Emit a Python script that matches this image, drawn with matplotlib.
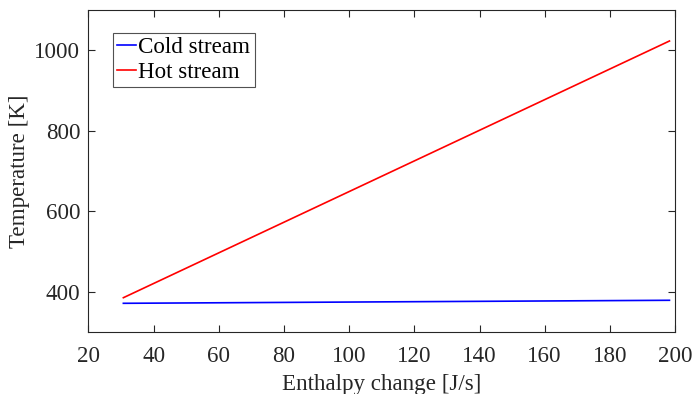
import matplotlib
matplotlib.use('Agg')
import matplotlib.pyplot as plt
import numpy as np

# enthalpy change [J/s] and stream temperatures [K]
dh = [30.7, 198.3]
tCold = [371.3, 378.8]
tHot = [385.2, 1023.0]

xTicks = [20, 40, 60, 80, 100, 120, 140, 160, 180, 200]
yTicks = [400, 600, 800, 1000]

plt.rcParams['font.family'] = ['Liberation Serif', 'DejaVu Serif']
fs = 16.6
axColor = '#262626'

fig = plt.figure(figsize=(6.94, 3.94), dpi=100)
ax = fig.add_axes([88.5 / 694, 1 - 332 / 394, (675 - 88.5) / 694, (332 - 10) / 394])

ax.plot(dh, tCold, color='#0000ff', lw=1.2, label='Cold stream')
ax.plot(dh, tHot, color='#ff0000', lw=1.2, label='Hot stream')

ax.set_xlim(20, 200)
ax.set_ylim(300, 1100)
ax.set_xticks(xTicks)
ax.set_yticks(yTicks)
ax.tick_params(direction='in', top=True, right=True, labelsize=fs, colors=axColor,
               length=5, width=0.8)
ax.tick_params(axis='x', pad=10)
ax.tick_params(axis='y', pad=6)
for s in ax.spines.values():
  s.set_color(axColor)
  s.set_linewidth(0.8)

ax.set_xlabel('Enthalpy change [J/s]', fontsize=fs, color=axColor, labelpad=5)
ax.set_ylabel('Temperature [K]', fontsize=fs, color=axColor, labelpad=3)

leg = ax.legend(loc='upper left', bbox_to_anchor=(0.042, 0.93), fontsize=fs, frameon=True,
                fancybox=False, edgecolor=axColor, handlelength=0.8, handletextpad=0.12,
                borderpad=0.18, borderaxespad=0, labelspacing=0.18)
leg.get_frame().set_linewidth(0.8)

fig.savefig('out.png', dpi=100)
